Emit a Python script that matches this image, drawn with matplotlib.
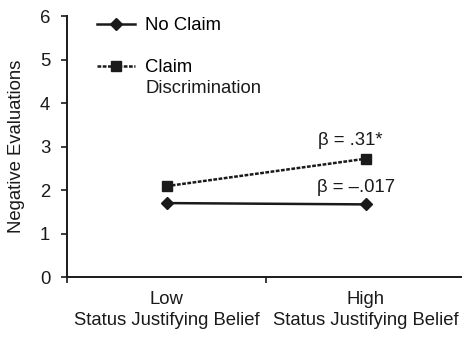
import matplotlib.pyplot as plt

# --- Data ---
categories = ['Low\nStatus Justifying Belief', 'High\nStatus Justifying Belief']
no_claim = [1.70, 1.67]
claim_disc = [2.09, 2.72]
beta_labels = ['\u03b2 = .31*', '\u03b2 = \u2013.017']

plt.rcParams['font.family'] = ['Liberation Sans', 'DejaVu Sans']
ink = '#1a1a1a'
fs = 13.3

fig = plt.figure(figsize=(4.62, 3.42), dpi=100)
ax = fig.add_axes([0.145, 0.19, 0.862, 0.763])

x = [0.5, 1.5]
ax.plot(x, no_claim, color=ink, linewidth=1.8, marker='D', markersize=6.5,
        label='No Claim')
ax.plot(x, claim_disc, color=ink, linewidth=1.8, linestyle=(0, (1.5, 0.6)),
        marker='s', markersize=6.5, label='Claim')

# beta annotations
ax.text(1.583, 3.15, beta_labels[0], ha='right', va='center', fontsize=fs, color=ink)
ax.text(1.648, 2.05, beta_labels[1], ha='right', va='center', fontsize=fs, color=ink)

ax.set_xlim(0, 2)
ax.set_ylim(0, 6)
ax.set_xticks([0, 1, 2])
ax.set_xticklabels([])
ax.set_xticks(x, minor=True)
ax.set_xticklabels(categories, minor=True, fontsize=fs, color=ink, linespacing=1.35)
ax.tick_params(axis='x', which='minor', length=0, pad=10)
ax.tick_params(axis='x', which='major', length=4, width=1.2, color=ink)
ax.set_yticks(range(0, 7))
ax.tick_params(axis='y', length=4, width=1.2, color=ink, labelsize=fs,
               labelcolor=ink, pad=8)
ax.set_ylabel('Negative Evaluations', fontsize=fs, color=ink)
ax.yaxis.set_label_coords(-0.106, 0.5)

for side in ['top', 'right']:
    ax.spines[side].set_visible(False)
for side in ['left', 'bottom']:
    ax.spines[side].set_linewidth(1.4)
    ax.spines[side].set_color(ink)

ax.legend(loc='upper left', bbox_to_anchor=(0.075, 0.995), frameon=False,
          fontsize=fs, handlelength=2.05, labelspacing=1.35, handletextpad=0.55,
          borderpad=0, borderaxespad=0)
ax.text(0.196, 0.724, 'Discrimination', transform=ax.transAxes, ha='left',
        va='center', fontsize=fs, color=ink)

fig.savefig('out.png', dpi=100)
